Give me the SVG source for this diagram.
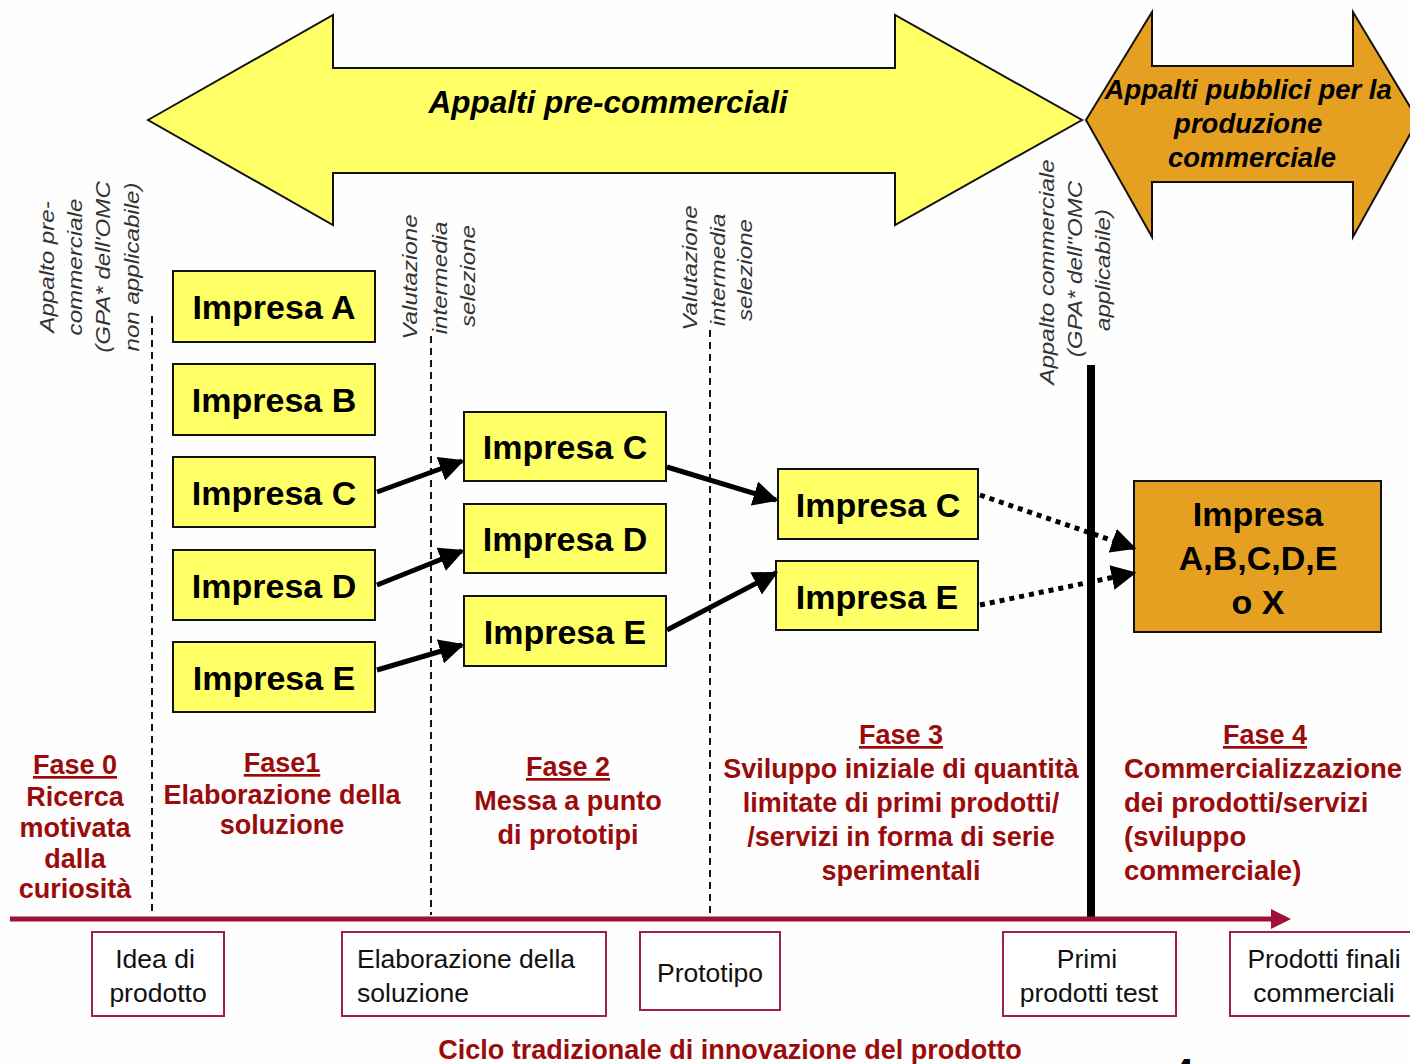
<svg xmlns="http://www.w3.org/2000/svg" width="1410" height="1064" viewBox="0 0 1410 1064">
<style>
.bg{fill:#fefefe}
.yb{fill:#ffff66;stroke:#111;stroke-width:2}
.ob{fill:#e6a021;stroke:#111;stroke-width:2}
.imp{font-family:"Liberation Sans",Arial,sans-serif;font-weight:bold;font-size:34px;fill:#000;text-anchor:middle}
.vt{font-family:"Liberation Sans",Arial,sans-serif;font-style:italic;font-size:21px;fill:#333;text-anchor:middle}
.ph{font-family:"Liberation Sans",Arial,sans-serif;font-weight:bold;font-size:27px;fill:#9a0c0c;text-anchor:middle}
.phl{font-family:"Liberation Sans",Arial,sans-serif;font-weight:bold;font-size:27.5px;fill:#9a0c0c}
.ul{text-decoration:underline}
.bx{fill:#fff;stroke:#a02048;stroke-width:2}
.bt{font-family:"Liberation Sans",Arial,sans-serif;font-size:26.5px;fill:#111;text-anchor:middle}
.dash{stroke:#111;stroke-width:2;stroke-dasharray:7,5;fill:none}
.ar{stroke:#000;stroke-width:5;fill:none;marker-end:url(#ah)}
.dot{stroke:#000;stroke-width:5;stroke-dasharray:5,5;fill:none;marker-end:url(#ah)}
</style>
<defs>
<marker id="ah" markerWidth="5" markerHeight="5" refX="4.5" refY="2.5" orient="auto" markerUnits="strokeWidth">
<path d="M0,0 L5,2.5 L0,5 z" fill="#000"/>
</marker>
<marker id="rh" markerWidth="4" markerHeight="4" refX="3" refY="2" orient="auto" markerUnits="strokeWidth">
<path d="M0,0 L4,2 L0,4 z" fill="#9e1036"/>
</marker>
</defs>
<rect class="bg" x="0" y="0" width="1410" height="1064"/>

<g id="arrow-precommerciali">
<polygon class="yb" points="148,120 333,15 333,68 895,68 895,15 1082,120 895,225 895,173 333,173 333,225"/>
<text x="608" y="113" style="font-family:'Liberation Sans',Arial,sans-serif;font-weight:bold;font-style:italic;font-size:31.5px;fill:#000;text-anchor:middle">Appalti pre-commerciali</text>
</g>
<g id="arrow-commerciali">
<polygon class="ob" points="1086,120 1152,12 1152,66 1353,66 1353,12 1418,120 1353,237 1353,182 1152,182 1152,237"/>
<text style="font-family:'Liberation Sans',Arial,sans-serif;font-weight:bold;font-style:italic;font-size:27.5px;fill:#000;text-anchor:middle">
<tspan x="1252" y="99">Appalti pubblici per la</tspan>
<tspan x="1252" y="133">produzione</tspan>
<tspan x="1252" y="167">commerciale</tspan>
</text>
</g>

<g id="labels-vertical">
<text class="vt" transform="translate(54,267) rotate(-90) scale(1.15,1)">Appalto pre-</text>
<text class="vt" transform="translate(82,267) rotate(-90) scale(1.15,1)">commerciale</text>
<text class="vt" transform="translate(110,267) rotate(-90) scale(1.15,1)">(GPA* dell'OMC</text>
<text class="vt" transform="translate(139,267) rotate(-90) scale(1.15,1)">non applicabile)</text>
<text class="vt" transform="translate(417,277) rotate(-90) scale(1.15,1)">Valutazione</text>
<text class="vt" transform="translate(447,278) rotate(-90) scale(1.15,1)">intermedia</text>
<text class="vt" transform="translate(475,276) rotate(-90) scale(1.15,1)">selezione</text>
<text class="vt" transform="translate(697,268) rotate(-90) scale(1.15,1)">Valutazione</text>
<text class="vt" transform="translate(725,270) rotate(-90) scale(1.15,1)">intermedia</text>
<text class="vt" transform="translate(752,270) rotate(-90) scale(1.15,1)">selezione</text>
<text class="vt" transform="translate(1054,272) rotate(-90) scale(1.15,1)">Appalto commerciale</text>
<text class="vt" transform="translate(1082,269) rotate(-90) scale(1.15,1)">(GPA* dell''OMC</text>
<text class="vt" transform="translate(1110,270) rotate(-90) scale(1.15,1)">applicabile)</text>
</g>

<g id="dividers">
<line class="dash" x1="152" y1="316" x2="152" y2="915"/>
<line class="dash" x1="431" y1="336" x2="431" y2="915"/>
<line class="dash" x1="710" y1="330" x2="710" y2="915"/>
<line x1="1091" y1="365" x2="1091" y2="918" stroke="#000" stroke-width="8"/>
</g>

<g id="n-A1"><rect class="yb" x="173" y="271" width="202" height="71"/><text class="imp" x="274" y="319">Impresa A</text></g>
<g id="n-B1"><rect class="yb" x="173" y="364" width="202" height="71"/><text class="imp" x="274" y="412">Impresa B</text></g>
<g id="n-C1"><rect class="yb" x="173" y="457" width="202" height="70"/><text class="imp" x="274" y="505">Impresa C</text></g>
<g id="n-D1"><rect class="yb" x="173" y="550" width="202" height="70"/><text class="imp" x="274" y="598">Impresa D</text></g>
<g id="n-E1"><rect class="yb" x="173" y="642" width="202" height="70"/><text class="imp" x="274" y="690">Impresa E</text></g>

<g id="n-C2"><rect class="yb" x="464" y="412" width="202" height="69"/><text class="imp" x="565" y="459">Impresa C</text></g>
<g id="n-D2"><rect class="yb" x="464" y="504" width="202" height="69"/><text class="imp" x="565" y="551">Impresa D</text></g>
<g id="n-E2"><rect class="yb" x="464" y="596" width="202" height="70"/><text class="imp" x="565" y="644">Impresa E</text></g>

<g id="n-C3"><rect class="yb" x="778" y="469" width="200" height="70"/><text class="imp" x="878" y="517">Impresa C</text></g>
<g id="n-E3"><rect class="yb" x="776" y="561" width="202" height="69"/><text class="imp" x="877" y="609">Impresa E</text></g>

<g id="n-final"><rect class="ob" x="1134" y="481" width="247" height="151"/>
<text class="imp" x="1258" y="526">Impresa</text>
<text class="imp" x="1258" y="570">A,B,C,D,E</text>
<text class="imp" x="1258" y="614">o X</text></g>

<g id="connectors">
<line class="ar" x1="377" y1="492" x2="462" y2="461"/>
<line class="ar" x1="377" y1="585" x2="462" y2="551"/>
<line class="ar" x1="377" y1="670" x2="462" y2="645"/>
<line class="ar" x1="667" y1="467" x2="776" y2="500"/>
<line class="ar" x1="667" y1="630" x2="776" y2="573"/>
<line class="dot" x1="980" y1="495" x2="1134" y2="548"/>
<line class="dot" x1="980" y1="605" x2="1134" y2="573"/>
<line x1="10" y1="919" x2="1286" y2="919" stroke="#9e1036" stroke-width="5" marker-end="url(#rh)"/>
</g>

<g id="phases">
<text class="ph ul" x="75" y="774">Fase 0</text>
<text class="ph"><tspan x="75" y="806">Ricerca</tspan><tspan x="75" y="837">motivata</tspan><tspan x="75" y="868">dalla</tspan><tspan x="75" y="898">curiosità</tspan></text>
<text class="ph ul" x="282" y="772">Fase1</text>
<text class="ph"><tspan x="282" y="804">Elaborazione della</tspan><tspan x="282" y="834">soluzione</tspan></text>
<text class="ph ul" x="568" y="776">Fase 2</text>
<text class="ph"><tspan x="568" y="810">Messa a punto</tspan><tspan x="568" y="844">di prototipi</tspan></text>
<text class="ph ul" x="901" y="744">Fase 3</text>
<text class="ph"><tspan x="901" y="778">Sviluppo iniziale di quantità</tspan><tspan x="901" y="812">limitate di primi prodotti/</tspan><tspan x="901" y="846">/servizi in forma di serie</tspan><tspan x="901" y="880">sperimentali</tspan></text>
<text class="ph ul" x="1265" y="744">Fase 4</text>
<text class="phl"><tspan x="1124" y="778">Commercializzazione</tspan><tspan x="1124" y="812">dei prodotti/servizi</tspan><tspan x="1124" y="846">(sviluppo</tspan><tspan x="1124" y="880">commerciale)</tspan></text>
</g>

<g id="b-idea"><rect class="bx" x="92" y="932" width="132" height="84"/><text class="bt"><tspan x="155" y="968">Idea di</tspan><tspan x="158" y="1002">prodotto</tspan></text></g>
<g id="b-elab"><rect class="bx" x="342" y="932" width="264" height="84"/><text class="bt" style="text-anchor:start"><tspan x="357" y="968">Elaborazione della</tspan><tspan x="357" y="1002">soluzione</tspan></text></g>
<g id="b-proto"><rect class="bx" x="640" y="932" width="140" height="78"/><text class="bt" x="710" y="982">Prototipo</text></g>
<g id="b-primi"><rect class="bx" x="1003" y="932" width="173" height="84"/><text class="bt"><tspan x="1087" y="968">Primi</tspan><tspan x="1089" y="1002">prodotti test</tspan></text></g>
<g id="b-finali"><rect class="bx" x="1230" y="932" width="190" height="84"/><text class="bt"><tspan x="1324" y="968">Prodotti finali</tspan><tspan x="1324" y="1002">commerciali</tspan></text></g>

<text x="730" y="1059" style="font-family:'Liberation Sans',Arial,sans-serif;font-weight:bold;font-size:27px;fill:#9a0c0c;text-anchor:middle">Ciclo tradizionale di innovazione del prodotto</text>
<text x="1183" y="1086" style="font-family:'Liberation Sans',Arial,sans-serif;font-weight:bold;font-size:38px;fill:#000;text-anchor:middle">4</text>
</svg>
